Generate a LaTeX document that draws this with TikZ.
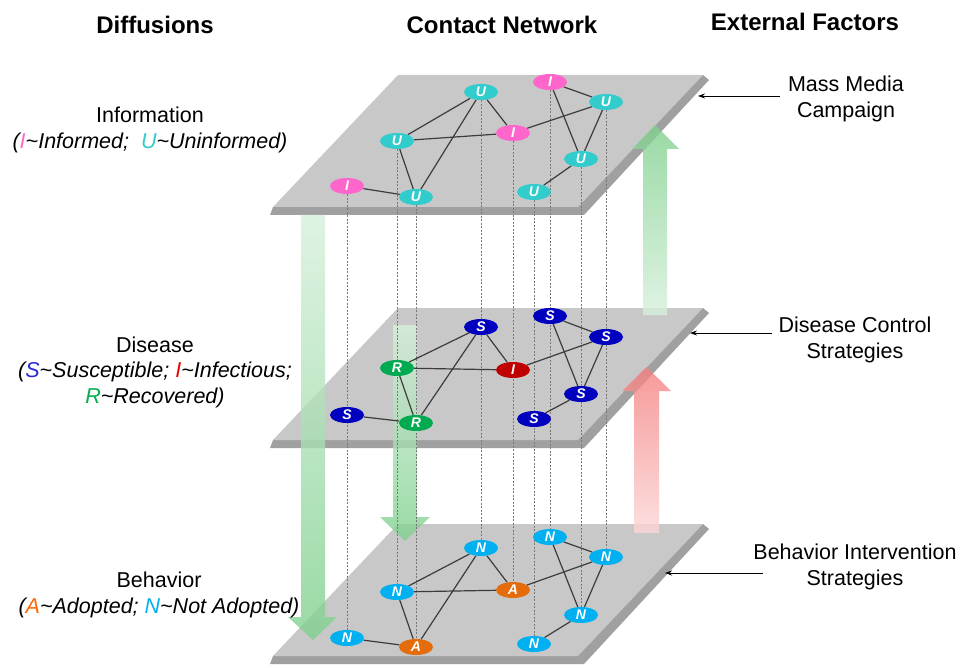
\documentclass[tikz,border=0pt]{standalone}
\usepackage{fontspec}
\setmainfont{Liberation Sans}
\usetikzlibrary{calc,shapes.geometric,arrows.meta}

\definecolor{surf}{RGB}{200,200,200}
\definecolor{bandgray}{RGB}{160,160,160}
\definecolor{linkgray}{RGB}{60,60,60}
\definecolor{dropgray}{RGB}{120,120,120}
\definecolor{cPink}{RGB}{255,102,204}
\definecolor{cTeal}{RGB}{51,204,204}
\definecolor{cBlue}{RGB}{0,0,190}
\definecolor{cGreen}{RGB}{0,170,80}
\definecolor{cRed}{RGB}{192,0,0}
\definecolor{cSky}{RGB}{0,176,240}
\definecolor{cOrange}{RGB}{228,108,10}
\definecolor{tBlue}{RGB}{40,40,210}
\definecolor{tRed}{RGB}{230,0,0}
\definecolor{tGreen}{RGB}{0,176,80}
\definecolor{tOrange}{RGB}{255,102,0}
\definecolor{gStrong}{RGB}{128,208,142}
\definecolor{gPale}{RGB}{215,240,220}
\definecolor{rStrong}{RGB}{244,128,128}
\definecolor{rPale}{RGB}{252,215,215}

\pgfdeclarelayer{planes}
\pgfdeclarelayer{arrowlayer}
\pgfdeclarelayer{linklayer}
\pgfsetlayers{planes,arrowlayer,linklayer,main}

\begin{document}
\begin{tikzpicture}[x=1pt,y=-1pt,
  vert/.style={ellipse,minimum width=34pt,minimum height=16pt,inner sep=0pt,
    text=white,font=\fontsize{14}{14}\selectfont\bfseries\itshape},
  vI/.style={vert,fill=cPink},
  vU/.style={vert,fill=cTeal},
  vS/.style={vert,fill=cBlue},
  vR/.style={vert,fill=cGreen},
  vX/.style={vert,fill=cRed},
  vN/.style={vert,fill=cSky},
  vA/.style={vert,fill=cOrange},
  link/.style={draw=linkgray,line width=1.2pt},
  drop/.style={draw=dropgray,line width=0.5pt,dash pattern=on 2pt off 1.5pt},
  header/.style={font=\fontsize{24}{28}\selectfont\bfseries},
  label/.style={font=\fontsize{21.5}{25.5}\selectfont,align=center},
  pointer/.style={draw=black,line width=0.9pt,-{Stealth[length=7pt,width=5pt]}},
  bigdown/.style={top color=gPale,bottom color=gStrong,fill opacity=0.8},
  bigup/.style={top color=gStrong,bottom color=gPale,fill opacity=0.8},
  redup/.style={top color=rStrong,bottom color=rPale,fill opacity=0.8},
  plane/.pic={
    \fill[bandgray] (0,0) -- (-3,8) -- (311,8) -- (436,-127) -- (430,-132) -- cycle;
    \fill[surf] (0,0) -- (305,0) -- (430,-132) -- (125,-132) -- cycle;
  }]
\useasboundingbox (0,0) rectangle (960,668);

% the three stacked layers
\begin{pgfonlayer}{planes}
  \pic at (273,207) {plane};
  \pic at (273,440) {plane};
  \pic at (273,656) {plane};
\end{pgfonlayer}

% column headers
\node[header] (hDiff) at (155,25) {Diffusions};
\node[header] (hNet) at (502,25) {Contact Network};
\node[header] (hExt) at (805,22) {External Factors};

% diffusion labels
\node[label] (lInfo) at (150,130) {Information\\
  \itshape(\textcolor{cPink}{I}\textasciitilde Informed;~ \textcolor{cTeal}{U}\textasciitilde Uninformed)};
\node[label] (lDis) at (155,372) {Disease\\
  \itshape(\textcolor{tBlue}{S}\textasciitilde Susceptible; \textcolor{tRed}{I}\textasciitilde Infectious;\\
  \itshape\textcolor{tGreen}{R}\textasciitilde Recovered)};
\node[label] (lBeh) at (159,595) {Behavior\\
  \itshape(\textcolor{tOrange}{A}\textasciitilde Adopted; \textcolor{cSky}{N}\textasciitilde Not Adopted)};

% external factors
\node[label] (eMedia) at (846,99) {Mass Media\\Campaign};
\node[label] (eCtrl) at (855,340) {Disease Control\\Strategies};
\node[label] (eInt) at (855,567) {Behavior Intervention\\Strategies};
\coordinate (pMedia) at (698,96);
\coordinate (pCtrl) at (690,333);
\coordinate (pInt) at (665,573);
\coordinate (sMedia) at (780,96);
\coordinate (sCtrl) at (772,333);
\coordinate (sInt) at (763,573);
\draw[pointer] (sMedia) -- (pMedia);
\draw[pointer] (sCtrl) -- (pCtrl);
\draw[pointer] (sInt) -- (pInt);

% information layer
\node[vI] (t1) at (347,186) {I};
\node[vU] (t2) at (397,141) {U};
\node[vU] (t3) at (416,197) {U};
\node[vU] (t4) at (481,92) {U};
\node[vI] (t5) at (513,133) {I};
\node[vU] (t6) at (534,192) {U};
\node[vI] (t7) at (550,82) {I};
\node[vU] (t8) at (581,159) {U};
\node[vU] (t9) at (606,102) {U};

% disease layer
\node[vS] (m1) at (347,415) {S};
\node[vR] (m2) at (397,368) {R};
\node[vR] (m3) at (416,423) {R};
\node[vS] (m4) at (481,327) {S};
\node[vX] (m5) at (513,370) {I};
\node[vS] (m6) at (534,419) {S};
\node[vS] (m7) at (550,316) {S};
\node[vS] (m8) at (581,394) {S};
\node[vS] (m9) at (606,337) {S};

% behavior layer
\node[vN] (b1) at (347,638) {N};
\node[vN] (b2) at (397,592) {N};
\node[vA] (b3) at (416,647) {A};
\node[vN] (b4) at (481,548) {N};
\node[vA] (b5) at (513,590) {A};
\node[vN] (b6) at (534,644) {N};
\node[vN] (b7) at (550,537) {N};
\node[vN] (b8) at (581,615) {N};
\node[vN] (b9) at (606,557) {N};

% contacts and the per-person links between layers
\begin{pgfonlayer}{linklayer}
  \foreach \k in {1,...,9} \draw[drop] (t\k) -- (b\k);
  \foreach \l in {t,m,b}
    \foreach \a/\b in {4/2,4/3,4/5,2/5,2/3,1/3,5/9,7/9,7/8,9/8,8/6}
      \draw[link] (\l\a) -- (\l\b);
\end{pgfonlayer}

% influence arrows
\begin{pgfonlayer}{arrowlayer}
  \shade[bigdown] (301,215) -- (325,215) -- (325,617) -- (337,617) -- (313,640) -- (288,617) -- (301,617) -- cycle;
  \shade[bigdown] (393,325) -- (417,325) -- (417,517) -- (430,517) -- (405,541) -- (380,517) -- (393,517) -- cycle;
  \shade[bigup] (643,315) -- (667,315) -- (667,149) -- (679,149) -- (655,125) -- (632,149) -- (643,149) -- cycle;
  \shade[redup] (634,533) -- (659,533) -- (659,391) -- (671,391) -- (646.5,367) -- (622,391) -- (634,391) -- cycle;
\end{pgfonlayer}
\end{tikzpicture}
\end{document}
